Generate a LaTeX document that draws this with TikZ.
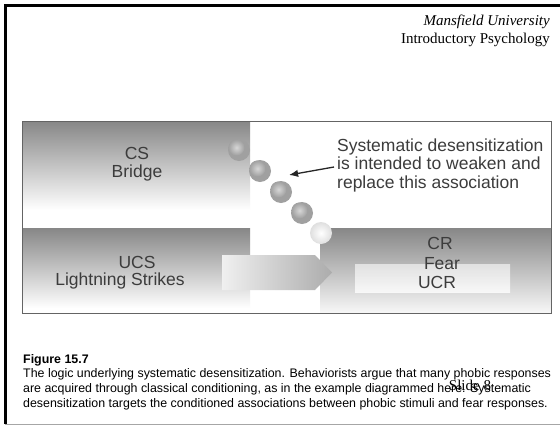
\documentclass[tikz,border=0pt]{standalone}
\usepackage{fontspec}
\setmainfont{Liberation Sans}
\newfontfamily\slidefont{Liberation Serif}
\usetikzlibrary{arrows.meta,positioning}
\definecolor{bandgray}{RGB}{135,135,135}
\definecolor{labelgray}{RGB}{60,60,60}
\definecolor{ballgray}{RGB}{160,160,160}
\definecolor{balllight}{RGB}{215,215,215}
\definecolor{frameedge}{RGB}{100,100,100}
\tikzset{
 lbl/.style={font=\fontsize{17.5}{18}\selectfont, text=labelgray, inner sep=0pt, align=center},
 note/.style={font=\fontsize{17.5}{18.5}\selectfont, text=labelgray, inner sep=0pt, align=left},
 pointer/.style={-{Latex[length=3.2mm,width=2.6mm]}, line width=1.3pt, draw=black!85},
 capt/.style={font=\fontsize{12.4}{14.8}\selectfont, align=left, inner sep=0pt},
 hdr/.style={font=\slidefont\fontsize{15}{18}\selectfont, align=right, inner sep=0pt}
}

\begin{document}
\begin{tikzpicture}[x=1pt,y=-1pt]
\useasboundingbox (0,0) rectangle (560,426);
\fill[white] (0,0) rectangle (560,426);

% slide frame
\draw[line width=3pt] (5,424) |- (560,5.5);
\draw[gray!70, line width=1pt] (5,424.5) -- (560,424.5);

\node[hdr, anchor=north east] (header) at (550,15) {\textit{Mansfield University}\\Introductory Psychology};

% bands
\shade[top color=bandgray, middle color=gray!35, bottom color=white] (22,121) rectangle (250,210);
\shade[top color=bandgray, middle color=gray!30, bottom color=white] (22,228) rectangle (250,308);
\shade[top color=bandgray, bottom color=white!94!gray] (320,228) rectangle (551,313);
\shade[top color=white!85!gray, bottom color=white, opacity=.8] (355,264) rectangle (510,292);

% stimulus arrow
\shade[left color=white!88!gray, right color=gray!65] (222,255) -- (315,255) -- (332,272.5) -- (315,290) -- (222,290) -- cycle;

% balls
\foreach \x/\y in {239/150, 260/171, 281/192, 302/213} {
  \fill[ballgray] (\x,\y) circle (11);
  \shade[inner color=balllight, outer color=ballgray] (\x-2.5,\y-2.5) circle (8);
}
\shade[inner color=white, outer color=gray!25] (321,233) circle (11);

\draw[frameedge, line width=.8pt] (22,121) rectangle (551,313);

\node[lbl] (cs) at (137,164) {CS\\Bridge};
\node[lbl] (ucs) at (137,262) {UCS};
\node[lbl] (ucsname) at (120,280.5) {Lightning Strikes};
\node[lbl] (cr) at (440,243) {CR};
\node[lbl] (fear) at (442,264) {Fear};
\node[lbl] (ucr) at (437,282) {UCR};

\node[note, anchor=west] (desc) at (337,165) {Systematic desensitization\\is intended to weaken and\\replace this association};
\coordinate (tip) at (289,175);
\draw[pointer] ([xshift=-3pt,yshift=-2pt]desc.west) -- (tip);

\node[capt, anchor=north west] (caption) at (23,354) {\textbf{Figure 15.7}\\The logic underlying systematic desensitization. Behaviorists argue that many phobic responses\\are acquired through classical conditioning, as in the example diagrammed here. Systematic\\desensitization targets the conditioned associations between phobic stimuli and fear responses.};
\node[font=\slidefont\fontsize{15}{17}\selectfont, inner sep=0pt] (slideno) at (470,385) {Slide 8};
\end{tikzpicture}
\end{document}
